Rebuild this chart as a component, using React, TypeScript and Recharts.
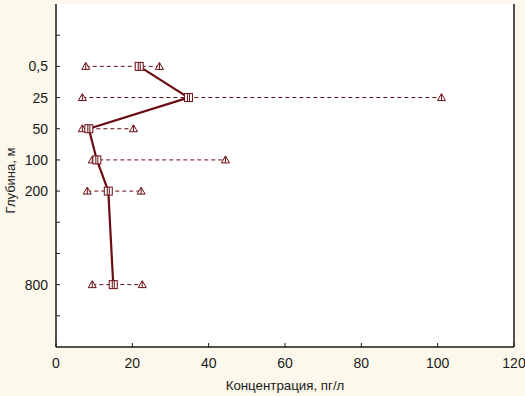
import { CartesianGrid, Scatter, ScatterChart, XAxis, YAxis } from "recharts";

// Depth rows, placed on an index axis (0..11) like the original plot.
const depthLabels = ["0,5", "25", "50", "100", "200", "800"];
const depthPos = [2, 3, 4, 5, 6, 9];
const meanConc = [21.8, 34.7, 8.6, 10.7, 13.7, 15.0];
const minConc = [7.8, 6.9, 6.9, 9.5, 8.2, 9.5];
const maxConc = [27.1, 101, 20.3, 44.4, 22.3, 22.6];
const xTicks = [0, 20, 40, 60, 80, 100, 120];
const yTicks = [1, 2, 3, 4, 5, 6, 7, 8, 9, 10];

const RED = "#6a0c12";
const INK = "#1a1a1a";
const FONT = "'Liberation Sans', Arial, sans-serif";

const meanData = depthPos.map((y, i) => ({ x: meanConc[i], y }));
const rangeData = depthPos.map((y, i) => [
  { x: minConc[i], y },
  { x: maxConc[i], y },
]);

function labelFor(v: number): string {
  const i = depthPos.indexOf(v);
  return i >= 0 ? depthLabels[i] : "";
}

function Triangle(props: any) {
  const { cx, cy } = props;
  if (cx == null || cy == null) return null;
  return (
    <g>
      <path
        d={`M${cx},${cy - 4} L${cx + 4},${cy + 3} L${cx - 4},${cy + 3} Z`}
        fill="#fff"
        stroke={RED}
        strokeWidth={1}
      />
      <line x1={cx} y1={cy - 3} x2={cx} y2={cy + 3} stroke={RED} strokeWidth={1} />
    </g>
  );
}

function Square(props: any) {
  const { cx, cy } = props;
  if (cx == null || cy == null) return null;
  return (
    <g>
      <rect x={cx - 4} y={cy - 4} width={8} height={8} fill="#fff" stroke={RED} strokeWidth={1} />
      <line x1={cx - 1} y1={cy - 4} x2={cx - 1} y2={cy + 4} stroke={RED} strokeWidth={1} />
      <line x1={cx + 1} y1={cy - 4} x2={cx + 1} y2={cy + 4} stroke={RED} strokeWidth={1} />
    </g>
  );
}

const tickStyle = { fill: INK, fontSize: 14, fontFamily: FONT };

export default function App() {
  return (
    <div
      style={{
        position: "fixed",
        left: 0,
        top: 0,
        width: 525,
        height: 396,
        background: "#fdf8ec",
      }}
    >
      <ScatterChart
        width={525}
        height={396}
        margin={{ top: 4, right: 10, bottom: 0, left: 0 }}
      >
        <rect x={56} y={4} width={458} height={343} fill="#ffffff" />
        <CartesianGrid
          horizontal={false}
          stroke="#cfcfcf"
          strokeWidth={1}
          verticalValues={[20, 40, 60, 80, 100]}
        />
        <XAxis
          type="number"
          dataKey="x"
          domain={[0, 120]}
          ticks={xTicks}
          allowDataOverflow
          height={49}
          tick={tickStyle}
          tickSize={-4}
          tickMargin={15}
          axisLine={{ stroke: INK, strokeWidth: 1.5 }}
          tickLine={{ stroke: INK }}
          label={{
            value: "Концентрация, пг/л",
            position: "insideBottom",
            offset: 6,
            style: { fill: INK, fontSize: 13.3, fontFamily: FONT },
          }}
        />
        <XAxis
          xAxisId="top"
          orientation="top"
          type="number"
          domain={[0, 120]}
          ticks={xTicks}
          height={0}
          tickSize={-4}
          tickFormatter={() => ""}
          axisLine={{ stroke: INK, strokeWidth: 1.5 }}
          tickLine={{ stroke: INK }}
        />
        <YAxis
          type="number"
          dataKey="y"
          domain={[0, 11]}
          reversed
          ticks={yTicks}
          interval={0}
          width={56}
          tick={tickStyle}
          tickSize={-4}
          tickMargin={12}
          tickFormatter={labelFor}
          axisLine={{ stroke: INK, strokeWidth: 1.5 }}
          tickLine={{ stroke: INK }}
          label={{
            value: "Глубина, м",
            angle: -90,
            position: "center",
            dx: -18,
            dy: 5,
            style: { fill: INK, fontSize: 13, fontFamily: FONT, textAnchor: "middle" },
          }}
        />
        <YAxis
          yAxisId="right"
          orientation="right"
          type="number"
          domain={[0, 11]}
          reversed
          ticks={yTicks}
          interval={0}
          width={1}
          tickSize={-4}
          tickFormatter={() => ""}
          axisLine={{ stroke: INK, strokeWidth: 1.5 }}
          tickLine={{ stroke: INK }}
        />
        {rangeData.map((row, i) => (
          <Scatter
            key={depthLabels[i]}
            data={row}
            line={{ stroke: RED, strokeWidth: 1, strokeDasharray: "4 3" }}
            lineType="joint"
            shape={<Triangle />}
            isAnimationActive={false}
          />
        ))}
        <Scatter
          data={meanData}
          line={{ stroke: RED, strokeWidth: 2.2 }}
          lineType="joint"
          shape={<Square />}
          isAnimationActive={false}
        />
      </ScatterChart>
    </div>
  );
}
